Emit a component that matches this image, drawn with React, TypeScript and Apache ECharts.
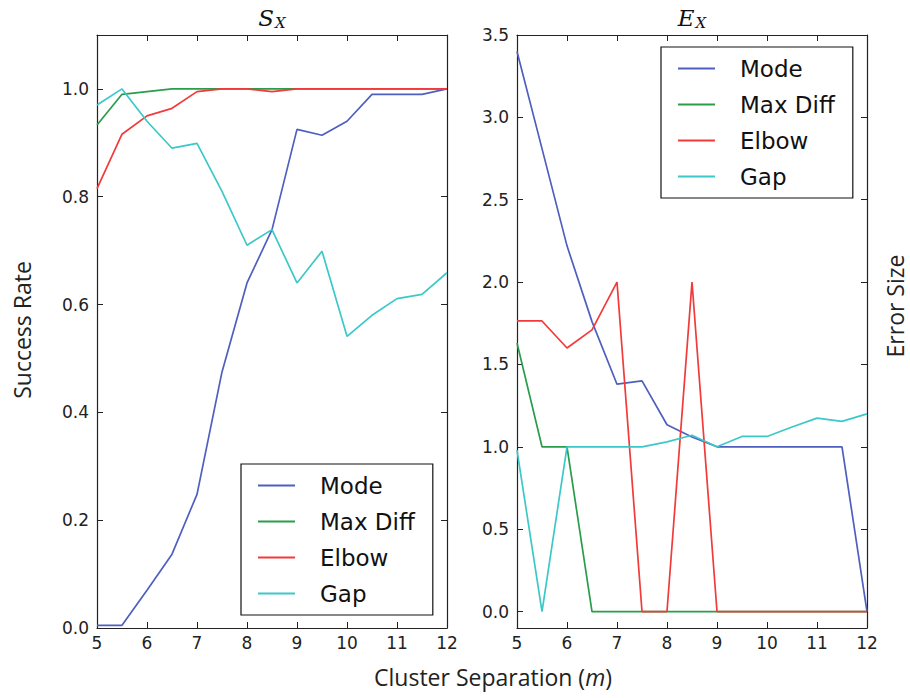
import React, { useEffect, useRef } from "react";
import * as echarts from "echarts";

const xs = [5, 5.5, 6, 6.5, 7, 7.5, 8, 8.5, 9, 9.5, 10, 10.5, 11, 11.5, 12];
const seriesNames = ["Mode", "Max Diff", "Elbow", "Gap"];
const colors = ["#4f5fbf", "#2a9d4a", "#f23a3a", "#3cc8c8"];

// Success rate S_X
const sMode = [0.005, 0.005, 0.07, 0.137, 0.248, 0.475, 0.64, 0.739, 0.925, 0.914, 0.94, 0.99, 0.99, 0.99, 1.0];
const sMaxDiff = [0.933, 0.99, 0.995, 1.0, 1.0, 1.0, 1.0, 1.0, 1.0, 1.0, 1.0, 1.0, 1.0, 1.0, 1.0];
const sElbow = [0.815, 0.916, 0.95, 0.964, 0.995, 1.0, 1.0, 0.995, 1.0, 1.0, 1.0, 1.0, 1.0, 1.0, 1.0];
const sGap = [0.97, 1.0, 0.94, 0.89, 0.899, 0.81, 0.71, 0.739, 0.64, 0.699, 0.541, 0.58, 0.611, 0.619, 0.659];

// Error size E_X
const eMode = [3.4, 2.81, 2.22, 1.76, 1.38, 1.4, 1.134, 1.06, 1.0, 1.0, 1.0, 1.0, 1.0, 1.0, 0.0];
const eMaxDiff = [1.63, 1.0, 1.0, 0.0, 0.0, 0.0, 0.0, 0.0, 0.0, 0.0, 0.0, 0.0, 0.0, 0.0, 0.0];
const eElbow = [1.764, 1.764, 1.6, 1.71, 2.0, 0.0, 0.0, 2.0, 0.0, 0.0, 0.0, 0.0, 0.0, 0.0, 0.0];
const eGap = [0.98, 0.0, 1.0, 1.0, 1.0, 1.0, 1.03, 1.07, 1.0, 1.063, 1.063, 1.12, 1.174, 1.154, 1.2];

const xTicks = [5, 6, 7, 8, 9, 10, 11, 12];
const sTicks = [0, 0.2, 0.4, 0.6, 0.8, 1.0];
const eTicks = [0, 0.5, 1.0, 1.5, 2.0, 2.5, 3.0, 3.5];

const leftSeries = [sMode, sMaxDiff, sElbow, sGap];
const rightSeries = [eMode, eMaxDiff, eElbow, eGap];

const AXIS_COLOR = "#222";
const TICK_FONT = "DejaVu Sans";
const LABEL_FONT = "Open Sans";

function makeX(gridIndex: number, position: "bottom" | "top", showLabel: boolean) {
  return {
    type: "value",
    gridIndex,
    position,
    min: 5,
    max: 12,
    axisLine: { show: true, onZero: false, lineStyle: { color: AXIS_COLOR, width: 1.2 } },
    axisTick: {
      show: true,
      inside: true,
      length: 6,
      customValues: xTicks,
      lineStyle: { color: AXIS_COLOR, width: 1 },
    },
    axisLabel: {
      show: showLabel,
      customValues: xTicks,
      color: "#222",
      fontFamily: TICK_FONT,
      fontSize: 17,
      margin: 6,
    },
    splitLine: { show: false },
  };
}

function makeY(
  gridIndex: number,
  position: "left" | "right",
  showLabel: boolean,
  min: number,
  max: number,
  ticks: number[]
) {
  return {
    type: "value",
    gridIndex,
    position,
    min,
    max,
    axisLine: { show: true, onZero: false, lineStyle: { color: AXIS_COLOR, width: 1.2 } },
    axisTick: {
      show: true,
      inside: true,
      length: 6,
      customValues: ticks,
      lineStyle: { color: AXIS_COLOR, width: 1 },
    },
    axisLabel: {
      show: showLabel,
      customValues: ticks,
      formatter: (v: number) => v.toFixed(1),
      color: "#222",
      fontFamily: TICK_FONT,
      fontSize: 17,
      margin: 8,
    },
    splitLine: { show: false },
  };
}

function legendFor(left: number, top: number) {
  return {
    orient: "vertical",
    left,
    top,
    data: seriesNames,
    icon: "rect",
    backgroundColor: "#fff",
    borderColor: "#111",
    borderWidth: 1.2,
    borderRadius: 0,
    padding: [10, 18, 10, 17],
    itemWidth: 37,
    itemHeight: 2,
    itemGap: 13,
    selectedMode: false,
    textStyle: {
      fontFamily: TICK_FONT,
      fontSize: 23,
      color: "#111",
      padding: [0, 0, 0, 20],
    },
  };
}

export default function App() {
  const ref = useRef<HTMLDivElement>(null);

  useEffect(() => {
    if (!ref.current) return;
    const chart = echarts.init(ref.current, undefined, { renderer: "svg" });

    const series: any[] = [];
    leftSeries.forEach((arr, i) => {
      series.push({
        name: seriesNames[i],
        type: "line",
        xAxisIndex: 0,
        yAxisIndex: 0,
        data: xs.map((x, k) => [x, arr[k]]),
        symbol: "none",
        lineStyle: { color: colors[i], width: 1.7 },
        itemStyle: { color: colors[i] },
        z: 2 + i,
      });
    });
    rightSeries.forEach((arr, i) => {
      series.push({
        name: seriesNames[i],
        type: "line",
        xAxisIndex: 2,
        yAxisIndex: 2,
        data: xs.map((x, k) => [x, arr[k]]),
        symbol: "none",
        lineStyle: { color: colors[i], width: 1.7 },
        itemStyle: { color: colors[i] },
        z: 2 + i,
      });
    });

    const titleRich = {
      m: { fontFamily: "DejaVu Serif", fontStyle: "italic", fontSize: 23, fill: "#111" },
      s: { fontFamily: "DejaVu Serif", fontStyle: "italic", fontSize: 15, fill: "#111", padding: [10, 0, 0, 1] },
    };

    const option: any = {
      animation: false,
      backgroundColor: "#fff",
      grid: [
        { left: 97, top: 35, width: 350, height: 593, containLabel: false },
        { left: 517, top: 35, width: 350, height: 593, containLabel: false },
      ],
      xAxis: [
        makeX(0, "bottom", true),
        makeX(0, "top", false),
        makeX(1, "bottom", true),
        makeX(1, "top", false),
      ],
      yAxis: [
        makeY(0, "left", true, 0, 1.1, sTicks),
        makeY(0, "right", false, 0, 1.1, sTicks),
        makeY(1, "left", true, -0.1, 3.5, eTicks),
        makeY(1, "right", false, -0.1, 3.5, eTicks),
      ],
      legend: [legendFor(241, 464), legendFor(661, 47)],
      series,
      graphic: [
        {
          type: "text",
          x: 272,
          y: 18,
          style: { text: "{m|S}{s|X}", align: "center", verticalAlign: "middle", rich: titleRich },
        },
        {
          type: "text",
          x: 692,
          y: 18,
          style: { text: "{m|E}{s|X}", align: "center", verticalAlign: "middle", rich: titleRich },
        },
        {
          type: "text",
          x: 22,
          y: 330,
          rotation: Math.PI / 2,
          style: {
            text: "Success Rate",
            align: "center",
            verticalAlign: "middle",
            fontFamily: LABEL_FONT,
            fontSize: 23,
            fill: "#222",
          },
        },
        {
          type: "text",
          x: 895,
          y: 306,
          rotation: Math.PI / 2,
          style: {
            text: "Error Size",
            align: "center",
            verticalAlign: "middle",
            fontFamily: LABEL_FONT,
            fontSize: 23,
            fill: "#222",
          },
        },
        {
          type: "text",
          x: 493,
          y: 677,
          style: {
            text: "Cluster Separation ({i|m})",
            align: "center",
            verticalAlign: "middle",
            fontFamily: LABEL_FONT,
            fontSize: 23,
            fill: "#222",
            rich: {
              i: { fontFamily: LABEL_FONT, fontStyle: "italic", fontSize: 23, fill: "#222" },
            },
          },
        },
      ],
    };

    chart.setOption(option);
    return () => chart.dispose();
  }, []);

  return <div ref={ref} style={{ width: 910, height: 698, position: "absolute", left: 0, top: 0 }} />;
}
